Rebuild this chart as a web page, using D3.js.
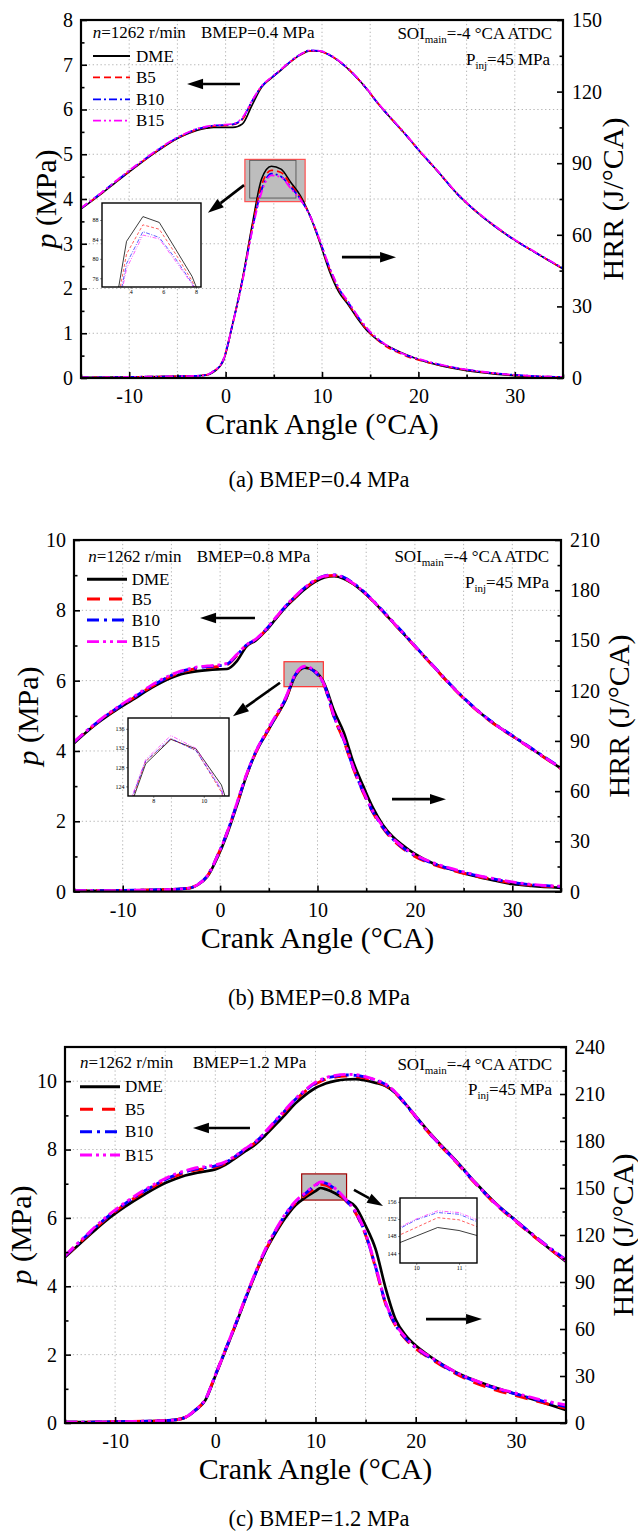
<!DOCTYPE html>
<html><head><meta charset="utf-8">
<script src="https://cdn.jsdelivr.net/npm/d3@7"></script>
<style>
body{margin:0;background:#fff}
svg{display:block}
text{font-family:"Liberation Serif","Times New Roman",serif;fill:#000}
</style>
</head><body>
<svg id="c" width="638" height="1535"></svg>
<script>
// ---------------- DATA ----------------
const fuels = ["DME", "B5", "B10", "B15"];
const fuelColors = ["#000000", "#ff0000", "#0000ff", "#ff00ff"];
const xTicks = [-10, 0, 10, 20, 30];
const xMinor = [-15, -5, 5, 15, 25, 35];
const gridX = [-10, -5, 0, 5, 10, 15, 20, 25, 30];

// (a) BMEP = 0.4 MPa
const caA = [-15,-13,-11,-9,-7,-5,-4,-3,-2,-1.25,-0.25,0.75,1.75,2.75,3.75,4.75,5.75,6.75,7.75,8.75,9.75,10.75,11.75,12.75,13.75,14.75,15.75,16.75,17.75,18.75,20,22,24,26,28,30,32,35];
const pA_DME = [3.78,4.10,4.44,4.77,5.08,5.35,5.45,5.53,5.58,5.60,5.60,5.60,5.68,6.10,6.50,6.70,6.88,7.07,7.22,7.31,7.30,7.22,7.08,6.90,6.68,6.43,6.15,5.90,5.66,5.42,5.10,4.62,4.12,3.72,3.38,3.08,2.82,2.44];
const pA_B5  = [3.79,4.11,4.45,4.78,5.09,5.36,5.46,5.55,5.60,5.63,5.64,5.66,5.78,6.18,6.52,6.71,6.89,7.07,7.22,7.31,7.30,7.22,7.08,6.90,6.68,6.43,6.15,5.90,5.66,5.42,5.10,4.62,4.12,3.72,3.38,3.08,2.82,2.44];
const pA_B10 = [3.79,4.12,4.46,4.79,5.10,5.37,5.47,5.56,5.61,5.64,5.65,5.67,5.80,6.19,6.52,6.71,6.89,7.08,7.23,7.32,7.31,7.22,7.08,6.90,6.68,6.43,6.15,5.90,5.66,5.42,5.10,4.62,4.12,3.72,3.38,3.08,2.82,2.45];
const pA_B15 = [3.80,4.12,4.47,4.80,5.11,5.38,5.48,5.57,5.62,5.65,5.66,5.68,5.82,6.20,6.53,6.72,6.90,7.08,7.23,7.32,7.31,7.23,7.09,6.91,6.69,6.44,6.16,5.91,5.67,5.43,5.11,4.63,4.13,3.73,3.39,3.09,2.83,2.45];
const hA_DME = [0.3,0.3,0.4,0.5,0.6,0.7,0.8,0.9,1.2,2.5,7.0,23.0,41.5,64.0,83.6,88.7,87.5,82.0,76.4,68.0,57.0,45.0,36.0,30.5,24.5,19.5,16.0,13.5,11.5,9.7,7.8,5.5,3.8,2.5,1.6,1.0,0.6,0.3];
const hA_B5  = [0.3,0.3,0.4,0.5,0.6,0.7,0.8,0.9,1.3,2.8,7.5,23.0,41.0,63.0,81.0,87.0,86.1,81.0,75.5,68.0,57.5,46.0,37.0,31.0,25.0,19.8,16.0,13.0,11.0,9.2,7.6,5.6,4.0,2.8,1.9,1.2,0.7,0.4];
const hA_B10 = [0.3,0.3,0.4,0.5,0.6,0.7,0.8,0.9,1.3,2.8,7.5,23.0,41.0,62.0,79.0,85.6,84.4,80.0,75.0,68.0,57.8,46.5,37.5,31.5,25.5,20.3,16.4,13.5,11.3,9.5,7.9,5.8,4.1,2.9,2.0,1.3,0.8,0.4];
const hA_B15 = [0.3,0.3,0.4,0.5,0.6,0.7,0.8,0.9,1.3,2.8,7.5,23.0,40.5,61.5,78.0,84.9,84.1,79.5,74.8,68.0,58.0,46.8,37.8,31.8,25.8,20.5,16.6,13.6,11.4,9.6,8.0,5.9,4.2,3.0,2.0,1.3,0.8,0.4];

// (b) BMEP = 0.8 MPa
const caB = [-15,-13,-11,-9,-7,-5,-4,-3,-2.3,-1.3,-0.3,0.7,1.7,2.7,3.7,4.7,5.7,6.7,7.7,8.7,9.7,10.7,11.7,12.7,13.7,14.7,15.7,16.7,17.7,18.7,20,22,24,26,28,30,32,35];
const pB_DME = [4.22,4.70,5.10,5.45,5.80,6.08,6.18,6.24,6.27,6.30,6.32,6.33,6.55,6.97,7.15,7.42,7.75,8.08,8.35,8.60,8.80,8.93,8.97,8.90,8.74,8.52,8.26,7.97,7.67,7.37,6.98,6.38,5.78,5.25,4.80,4.43,4.06,3.50];
const pB_B5  = [4.24,4.72,5.13,5.49,5.84,6.13,6.24,6.31,6.35,6.38,6.40,6.45,6.70,7.00,7.17,7.44,7.77,8.10,8.38,8.63,8.83,8.96,8.99,8.92,8.75,8.53,8.26,7.97,7.67,7.37,6.97,6.37,5.77,5.24,4.79,4.42,4.05,3.49];
const pB_B10 = [4.25,4.73,5.14,5.50,5.85,6.15,6.26,6.33,6.37,6.40,6.42,6.47,6.72,7.01,7.18,7.45,7.78,8.11,8.39,8.65,8.85,8.98,9.01,8.94,8.77,8.55,8.28,7.99,7.69,7.39,6.99,6.39,5.79,5.26,4.81,4.44,4.07,3.52];
const pB_B15 = [4.26,4.74,5.16,5.52,5.88,6.17,6.28,6.35,6.39,6.42,6.44,6.49,6.74,7.02,7.19,7.46,7.79,8.12,8.40,8.65,8.85,8.97,9.00,8.93,8.76,8.54,8.27,7.98,7.68,7.38,6.98,6.38,5.78,5.25,4.80,4.43,4.06,3.51];
const hB_DME = [0.5,0.5,0.6,0.8,1.0,1.3,1.6,2.2,4.0,9.0,20.0,34.0,51.0,69.0,83.5,94.0,104.0,114.0,128.7,133.8,131.8,124.3,108.0,95.0,77.0,63.0,50.0,40.0,33.0,28.0,22.5,16.5,12.8,9.5,6.8,4.5,3.3,2.2];
const hB_B5  = [0.5,0.5,0.6,0.8,1.0,1.3,1.6,2.3,4.2,9.5,21.0,35.0,52.0,69.5,83.5,94.0,104.0,114.5,129.2,133.9,131.5,122.8,104.0,90.0,73.0,59.0,47.0,38.0,31.0,26.0,21.0,16.0,12.5,9.6,7.2,5.2,3.9,2.8];
const hB_B10 = [0.5,0.5,0.6,0.8,1.0,1.3,1.6,2.3,4.2,9.5,21.0,35.0,52.0,69.5,84.0,94.5,104.5,115.0,129.3,134.0,131.4,123.2,104.5,90.5,73.5,59.5,47.5,38.5,31.5,26.5,21.5,16.5,13.0,10.0,7.6,5.5,4.1,3.0];
const hB_B15 = [0.5,0.5,0.6,0.8,1.0,1.3,1.6,2.3,4.2,9.5,21.0,35.0,52.5,70.0,84.0,95.0,105.0,115.5,129.6,134.6,131.9,123.5,105.0,91.0,74.0,60.0,48.0,39.0,32.0,27.0,22.0,17.0,13.4,10.3,7.9,5.8,4.3,3.2];

// (c) BMEP = 1.2 MPa
const caC = [-15,-13,-11,-9,-7,-5,-4,-3,-2,-1,0,1,2,3,4,5,6,7,8,9,10,10.5,11,12,13,14,15,16,17,18,19,20,21,22,24,26,28,30,32,35];
const pC_DME = [4.85,5.38,5.90,6.33,6.70,7.02,7.14,7.24,7.31,7.36,7.42,7.55,7.75,7.95,8.15,8.42,8.72,9.03,9.35,9.60,9.80,9.87,9.93,10.01,10.05,10.06,10.02,9.95,9.86,9.65,9.33,8.98,8.63,8.30,7.68,7.02,6.42,5.92,5.42,4.72];
const pC_B5  = [4.87,5.42,5.95,6.40,6.77,7.10,7.22,7.32,7.40,7.44,7.49,7.60,7.79,8.00,8.20,8.49,8.81,9.13,9.45,9.71,9.92,9.99,10.05,10.12,10.15,10.14,10.09,10.00,9.87,9.64,9.31,8.95,8.59,8.26,7.64,6.99,6.39,5.89,5.41,4.73];
const pC_B10 = [4.88,5.44,5.97,6.42,6.80,7.12,7.25,7.35,7.43,7.47,7.52,7.62,7.80,8.01,8.21,8.50,8.83,9.15,9.47,9.73,9.95,10.02,10.08,10.15,10.18,10.17,10.12,10.03,9.90,9.66,9.32,8.96,8.60,8.27,7.66,7.01,6.41,5.92,5.44,4.77];
const pC_B15 = [4.90,5.46,6.00,6.45,6.83,7.15,7.28,7.38,7.46,7.50,7.55,7.64,7.82,8.03,8.23,8.52,8.85,9.17,9.49,9.75,9.97,10.04,10.10,10.17,10.20,10.19,10.13,10.04,9.91,9.67,9.33,8.97,8.61,8.28,7.66,7.01,6.41,5.91,5.43,4.75];
const hC_DME = [0.5,0.5,0.7,0.9,1.1,1.5,2.0,3.5,8.0,14.5,30.0,46.0,62.0,79.0,95.0,109.5,121.0,131.0,139.0,144.0,148.0,150.0,149.3,146.5,142.5,138.0,126.0,111.0,86.0,66.0,56.0,49.5,44.5,40.0,32.5,27.0,22.5,18.5,14.5,8.3];
const hC_B5  = [0.5,0.5,0.7,0.9,1.1,1.5,2.0,3.6,8.2,15.0,30.5,46.5,62.5,79.5,95.5,110.0,122.0,132.5,140.5,145.5,150.0,152.3,151.8,148.0,142.0,134.0,120.0,99.0,76.0,62.0,53.5,47.5,43.0,39.0,31.5,25.5,21.0,17.5,14.0,9.5];
const hC_B10 = [0.5,0.5,0.7,0.9,1.1,1.5,2.0,3.6,8.2,15.0,30.5,46.5,62.5,79.5,95.5,110.5,122.5,133.0,141.0,146.5,151.8,153.5,153.1,149.0,142.5,134.5,120.5,99.5,76.5,62.5,54.0,48.0,43.5,39.5,32.0,26.5,22.0,18.5,15.0,10.5];
const hC_B15 = [0.5,0.5,0.7,0.9,1.1,1.5,2.0,3.6,8.2,15.0,30.5,46.5,63.0,80.0,96.0,111.0,123.0,133.5,141.5,147.0,152.0,153.9,153.5,149.5,143.0,135.0,121.0,100.0,77.0,63.0,54.5,48.5,44.0,40.0,32.5,27.0,22.5,19.0,15.5,11.5];

// axis ticks
const pTicksA = [0,1,2,3,4,5,6,7,8];
const hTicksA = [0,30,60,90,120,150];
const pTicksB = [0,2,4,6,8,10];
const hTicksB = [0,30,60,90,120,150,180,210];
const pTicksC = [0,2,4,6,8,10];
const hTicksC = [0,30,60,90,120,150,180,210,240];

// inset ticks
const insetXTicksA = [4,6,8], insetYTicksA = [76,80,84,88];
const insetXTicksB = [8,10],  insetYTicksB = [124,128,132,136];
const insetXTicksC = [10,11], insetYTicksC = [144,148,152,156];

// ---------------- LAYOUT ----------------
const panels = [
  { ca: caA, p: [pA_DME,pA_B5,pA_B10,pA_B15], h: [hA_DME,hA_B5,hA_B10,hA_B15],
    l:81, r:563, t:20, b:378, pMax:8, pTicks:pTicksA, hMax:150, hTicks:hTicksA,
    lw:[1.6,1.8], dash:["", "7,4", "8,3,2,3", "8,3,2,3,2,3"],
    bmep:"BMEP=0.4 MPa", headY:38, headX:92.7, bmepX:201,
    legY:[56,77.3,99.3,120.7], legX:[93,130,136],
    soi:[552,39], pinj:[550,65],
    caption:"(a) BMEP=0.4 MPa", capY:487, pTitle:[45,199], hTitle:[612,199],
    arrows:[[1.49,6.57,-4.0,6.57],[12.07,2.70,17.68,2.70],[1.91,4.31,-1.83,3.69]],
    zoom:{x0:2.0,x1:8.25,y0:73.9,y1:91.6,stroke:"#ff5050",inner:[2.5,7.3,75.4,91.2]},
    inset:{x:102,y:203,w:99,h:84,xd:[2.25,8.3],yd:[74.2,91.5],xt:insetXTicksA,yt:insetYTicksA}
  },
  { ca: caB, p: [pB_DME,pB_B5,pB_B10,pB_B15], h: [hB_DME,hB_B5,hB_B10,hB_B15],
    l:74, r:561, t:540, b:891.6, pMax:10, pTicks:pTicksB, hMax:210, hTicks:hTicksB,
    lw:[2.6,2.8], dash:["", "13,9", "12,5,3,5", "12,4,3,4,3,4"],
    bmep:"BMEP=0.8 MPa", headY:561.7, headX:88.3, bmepX:196.7,
    legY:[579.3,599,620,641.7], legX:[87,127,131.7],
    soi:[549,562], pinj:[549,588],
    caption:"(b) BMEP=0.8 MPa", capY:1005, pTitle:[27,716], hTitle:[618,716],
    arrows:[[3.58,7.78,-2.06,7.78],[17.65,2.63,23.19,2.63],[6.15,5.94,1.32,4.99]],
    zoom:{x0:6.56,x1:10.6,y0:122.4,y1:137.3,stroke:"#ff3030",inner:null},
    inset:{x:128,y:718,w:101,h:78,xd:[7,11],yd:[122,138.25],xt:insetXTicksB,yt:insetYTicksB}
  },
  { ca: caC, p: [pC_DME,pC_B5,pC_B10,pC_B15], h: [hC_DME,hC_B5,hC_B10,hC_B15],
    l:65, r:566, t:1047, b:1423, pMax:11, pTicks:pTicksC, hMax:240, hTicks:hTicksC,
    lw:[2.7,2.9], dash:["", "13,9", "12,5,3,5", "12,4,3,4,3,4"],
    bmep:"BMEP=1.2 MPa", headY:1068.3, headX:80, bmepX:192.7,
    legY:[1086.7,1109.3,1131.7,1155], legX:[80,120,125],
    soi:[552,1070], pinj:[552,1095],
    caption:"(c) BMEP=1.2 MPa", capY:1526, pTitle:[20,1235], hTitle:[622,1235],
    arrows:[[3.46,8.63,-2.23,8.63],[21.03,3.04,26.62,3.04],[13.84,6.82,16.74,6.35]],
    zoom:{x0:8.62,x1:13.1,y0:142.3,y1:159,stroke:"#a00000",inner:null},
    inset:{x:400,y:1198,w:77,h:65,xd:[9.62,11.42],yd:[141.7,156.9],xt:insetXTicksC,yt:insetYTicksC}
  }
];

const svg = d3.select("#c");
const FONT = '"Liberation Serif","Times New Roman",serif';

function arrow(g, x1, y1, x2, y2, w, hl, hw) {
  const a = Math.atan2(y2 - y1, x2 - x1);
  const bx = x2 - hl * Math.cos(a), by = y2 - hl * Math.sin(a);
  g.append("line").attr("x1", x1).attr("y1", y1).attr("x2", bx).attr("y2", by)
    .attr("stroke", "#000").attr("stroke-width", w);
  g.append("path")
    .attr("d", `M${x2},${y2}L${bx + hw*Math.sin(a)},${by - hw*Math.cos(a)}L${bx - hw*Math.sin(a)},${by + hw*Math.cos(a)}Z`)
    .attr("fill", "#000");
}

function styleAxis(sel, fs) {
  sel.select(".domain").remove();
  sel.selectAll(".tick line").attr("stroke", "#000").attr("stroke-width", 1.6);
  sel.selectAll(".tick text").attr("font-size", fs).attr("font-family", FONT).attr("fill", "#000");
}

panels.forEach((P, pi) => {
  const g = svg.append("g");
  const x = d3.scaleLinear().domain([-15, 35]).range([P.l, P.r]);
  const yP = d3.scaleLinear().domain([0, P.pMax]).range([P.b, P.t]);
  const yH = d3.scaleLinear().domain([0, P.hMax]).range([P.b, P.t]);

  // grid
  g.append("g").selectAll("line").data(gridX).join("line")
    .attr("x1", d => x(d)).attr("x2", d => x(d)).attr("y1", P.t).attr("y2", P.b)
    .attr("stroke", "#b4b4b4").attr("stroke-width", 1).attr("stroke-dasharray", "1.3,2.6");
  g.append("g").selectAll("line").data(P.pTicks.filter(v => v > 0 && v < P.pMax)).join("line")
    .attr("x1", P.l).attr("x2", P.r).attr("y1", d => yP(d)).attr("y2", d => yP(d))
    .attr("stroke", "#b4b4b4").attr("stroke-width", 1).attr("stroke-dasharray", "1.3,2.6");

  // zoom box
  const Z = P.zoom;
  g.append("rect").attr("x", x(Z.x0)).attr("y", yH(Z.y1)).attr("width", x(Z.x1) - x(Z.x0))
    .attr("height", yH(Z.y0) - yH(Z.y1)).attr("fill", "#bdbdbd").attr("stroke", Z.stroke).attr("stroke-width", 1.2);
  if (Z.inner) {
    g.append("rect").attr("x", x(Z.inner[0])).attr("y", yH(Z.inner[3])).attr("width", x(Z.inner[1]) - x(Z.inner[0]))
      .attr("height", yH(Z.inner[2]) - yH(Z.inner[3])).attr("fill", "none").attr("stroke", "#555").attr("stroke-width", 0.9);
  }

  // clip
  const cid = "clip" + pi;
  svg.append("clipPath").attr("id", cid).append("rect")
    .attr("x", P.l).attr("y", P.t).attr("width", P.r - P.l).attr("height", P.b - P.t);
  const plot = g.append("g").attr("clip-path", `url(#${cid})`);

  const lineP = d3.line().x((d, i) => x(P.ca[i])).y(d => yP(d)).curve(d3.curveMonotoneX);
  const lineH = d3.line().x((d, i) => x(P.ca[i])).y(d => yH(d)).curve(d3.curveMonotoneX);
  [lineP, lineH].forEach((ln, k) => {
    const series = k === 0 ? P.p : P.h;
    series.forEach((arr, fi) => {
      plot.append("path").datum(arr).attr("d", ln).attr("fill", "none")
        .attr("stroke", fuelColors[fi]).attr("stroke-width", fi === 0 ? P.lw[0] : P.lw[1])
        .attr("stroke-dasharray", P.dash[fi] || null)
        .attr("stroke-linejoin", "round");
    });
  });

  // axes
  const fmt = d => String(d);
  const minorP = P.pTicks.slice(0, -1).map((v, i) => (v + P.pTicks[i + 1]) / 2);
  const minorH = P.hTicks.slice(0, -1).map((v, i) => (v + P.hTicks[i + 1]) / 2);

  g.append("g").attr("transform", `translate(0,${P.b})`)
    .call(d3.axisBottom(x).tickValues(xTicks).tickSize(-6).tickPadding(10.8).tickFormat(fmt)).call(s => styleAxis(s, 20));
  g.append("g").attr("transform", `translate(0,${P.b})`)
    .call(d3.axisBottom(x).tickValues(xMinor).tickSize(-3.5).tickFormat("")).call(s => styleAxis(s, 20));
  g.append("g").attr("transform", `translate(${P.l},0)`)
    .call(d3.axisLeft(yP).tickValues(P.pTicks).tickSize(-6).tickPadding(8).tickFormat(fmt)).call(s => styleAxis(s, 20));
  g.append("g").attr("transform", `translate(${P.l},0)`)
    .call(d3.axisLeft(yP).tickValues(minorP).tickSize(-3.5).tickFormat("")).call(s => styleAxis(s, 20));
  g.append("g").attr("transform", `translate(${P.r},0)`)
    .call(d3.axisRight(yH).tickValues(P.hTicks).tickSize(-6).tickPadding(9).tickFormat(fmt)).call(s => styleAxis(s, 20));
  g.append("g").attr("transform", `translate(${P.r},0)`)
    .call(d3.axisRight(yH).tickValues(minorH).tickSize(-3.5).tickFormat("")).call(s => styleAxis(s, 20));

  // frame
  g.append("rect").attr("x", P.l).attr("y", P.t).attr("width", P.r - P.l).attr("height", P.b - P.t)
    .attr("fill", "none").attr("stroke", "#000").attr("stroke-width", 2.2);

  // titles
  g.append("text").attr("x", (P.l + P.r) / 2).attr("y", P.b + 56).attr("text-anchor", "middle")
    .attr("font-size", 30).text("Crank Angle (°CA)");
  g.append("text").attr("x", 319).attr("y", P.capY).attr("text-anchor", "middle")
    .attr("font-size", 22.5).text(P.caption);
  const pt = g.append("text").attr("transform", `translate(${P.pTitle[0]},${P.pTitle[1]}) rotate(-90)`)
    .attr("text-anchor", "middle").attr("dominant-baseline", "central").attr("font-size", 30);
  pt.append("tspan").attr("font-style", "italic").text("p");
  pt.append("tspan").text(" (MPa)");
  g.append("text").attr("transform", `translate(${P.hTitle[0]},${P.hTitle[1]}) rotate(-90)`)
    .attr("text-anchor", "middle").attr("dominant-baseline", "central").attr("font-size", 30).text("HRR (J/°CA)");

  // header
  const fs = 17;
  const ht = g.append("text").attr("x", P.headX).attr("y", P.headY).attr("font-size", fs);
  ht.append("tspan").attr("font-style", "italic").text("n");
  ht.append("tspan").text("=1262 r/min");
  g.append("text").attr("x", P.bmepX).attr("y", P.headY).attr("font-size", fs).text(P.bmep);
  const st = g.append("text").attr("x", P.soi[0]).attr("y", P.soi[1]).attr("text-anchor", "end").attr("font-size", fs);
  st.append("tspan").text("SOI");
  st.append("tspan").attr("font-size", 11).attr("dy", 4).text("main");
  st.append("tspan").attr("dy", -4).text("=-4 °CA ATDC");
  const pj = g.append("text").attr("x", P.pinj[0]).attr("y", P.pinj[1]).attr("text-anchor", "end").attr("font-size", fs);
  pj.append("tspan").text("P");
  pj.append("tspan").attr("font-size", 11).attr("dy", 4).text("inj");
  pj.append("tspan").attr("dy", -4).text("=45 MPa");

  // legend
  fuels.forEach((f, fi) => {
    const yy = P.legY[fi];
    g.append("line").attr("x1", P.legX[0]).attr("x2", P.legX[1]).attr("y1", yy).attr("y2", yy)
      .attr("stroke", fuelColors[fi]).attr("stroke-width", fi === 0 ? P.lw[0] + 0.3 : P.lw[1])
      .attr("stroke-dasharray", P.dash[fi] || null);
    g.append("text").attr("x", P.legX[2]).attr("y", yy).attr("dy", "0.33em").attr("font-size", fs).text(f);
  });

  // arrows
  P.arrows.forEach(a => arrow(g, x(a[0]), yP(a[1]), x(a[2]), yP(a[3]), 2.6, 16, 5.2));

  // inset
  const I = P.inset;
  const ig = g.append("g");
  const ix = d3.scaleLinear().domain(I.xd).range([I.x, I.x + I.w]);
  const iy = d3.scaleLinear().domain(I.yd).range([I.y + I.h, I.y]);
  ig.append("rect").attr("x", I.x).attr("y", I.y).attr("width", I.w).attr("height", I.h).attr("fill", "#fff");
  const icid = "iclip" + pi;
  svg.append("clipPath").attr("id", icid).append("rect").attr("x", I.x).attr("y", I.y).attr("width", I.w).attr("height", I.h);
  const ip = ig.append("g").attr("clip-path", `url(#${icid})`);
  const iline = d3.line().x((d, i) => ix(P.ca[i])).y(d => iy(d)).curve(d3.curveLinear);
  const idash = ["", "3,2", "4,1.5,1,1.5", "4,1.5,1,1.5,1,1.5"];
  P.h.forEach((arr, fi) => {
    ip.append("path").datum(arr).attr("d", iline).attr("fill", "none")
      .attr("stroke", fuelColors[fi]).attr("stroke-opacity", fi === 0 ? 0.85 : 0.7).attr("stroke-width", 0.9)
      .attr("stroke-dasharray", idash[fi] || null);
  });
  ig.append("g").attr("transform", `translate(0,${I.y + I.h})`)
    .call(d3.axisBottom(ix).tickValues(I.xt).tickSize(2).tickPadding(1).tickFormat(fmt))
    .call(s => { s.select(".domain").remove(); s.selectAll(".tick line").attr("stroke", "#444").attr("stroke-width", 0.6);
      s.selectAll(".tick text").attr("font-size", 6).attr("font-family", FONT).attr("fill", "#333"); });
  ig.append("g").attr("transform", `translate(${I.x},0)`)
    .call(d3.axisLeft(iy).tickValues(I.yt).tickSize(2).tickPadding(1.5).tickFormat(fmt))
    .call(s => { s.select(".domain").remove(); s.selectAll(".tick line").attr("stroke", "#444").attr("stroke-width", 0.6);
      s.selectAll(".tick text").attr("font-size", 6).attr("font-family", FONT).attr("fill", "#333"); });
  ig.append("rect").attr("x", I.x).attr("y", I.y).attr("width", I.w).attr("height", I.h)
    .attr("fill", "none").attr("stroke", "#000").attr("stroke-width", 1.4);
});
</script>
</body></html>
